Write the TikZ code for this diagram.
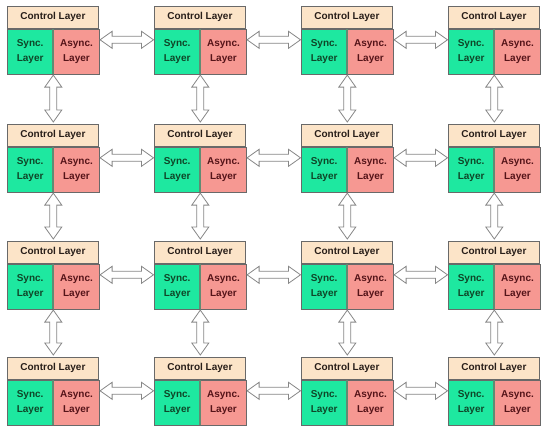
\documentclass[tikz,border=0pt]{standalone}
\usepackage{fontspec}
\setmainfont{Liberation Sans}
\usetikzlibrary{calc}
\definecolor{ctrlfill}{RGB}{252,228,200}
\definecolor{syncfill}{RGB}{30,232,160}
\definecolor{asyncfill}{RGB}{246,152,146}
\definecolor{edgecol}{RGB}{105,105,105}
\definecolor{divcol}{RGB}{95,140,115}
\definecolor{arrowcol}{RGB}{135,135,135}
\definecolor{ctrltext}{RGB}{40,30,25}
\definecolor{synctext}{RGB}{15,70,40}
\definecolor{asynctext}{RGB}{85,20,25}
\begin{document}
\begin{tikzpicture}[x=1pt,y=-1pt,
  ctrlbox/.style={draw=edgecol, line width=0.8pt, fill=ctrlfill, text=ctrltext, minimum width=91pt, minimum height=22pt, inner sep=0pt, anchor=north west, font=\fontsize{10}{12}\selectfont\bfseries},
  layerbox/.style={draw=edgecol, line width=0.8pt, minimum width=45.5pt, minimum height=45pt, inner sep=0pt, anchor=north west, align=center, font=\fontsize{10}{15}\selectfont\bfseries},
  syncbox/.style={layerbox, fill=syncfill, text=synctext},
  asyncbox/.style={layerbox, fill=asyncfill, text=asynctext},
  blockarrow/.style={draw=arrowcol, line width=0.8pt, fill=white, line join=miter},
]
\useasboundingbox (0,0) rectangle (550,437);
\foreach \r/\ty in {1/6,2/124,3/241,4/357}{
  \foreach \c/\tx in {1/7,2/154,3/301,4/448}{
    \node[ctrlbox] (c-\r-\c) at (\tx,\ty) {Control Layer};
    \node[syncbox] (s-\r-\c) at (c-\r-\c.south west) {Sync.\\Layer};
    \node[asyncbox] (a-\r-\c) at (s-\r-\c.north east) {Async.\\Layer};
    \draw[divcol, line width=2.2pt] ([yshift=-0.6pt]s-\r-\c.north east) -- ([yshift=0.6pt]s-\r-\c.south east);
  }
}
% horizontal arrows
\foreach \r in {1,...,4}{
  \foreach \c/\n in {1/2,2/3,3/4}{
    \coordinate (hl) at ([xshift=0.5pt,yshift=-11pt]a-\r-\c.north east);
    \coordinate (hr) at ([xshift=-0.5pt,yshift=-11pt]s-\r-\n.north west);
    \draw[blockarrow] let \p1=(hl), \p2=(hr) in
      (\x1,\y1) -- (\x1+12pt,\y1+8.5pt) -- (\x1+12pt,\y1+3.5pt) -- (\x2-12pt,\y1+3.5pt)
      -- (\x2-12pt,\y1+8.5pt) -- (\x2,\y1) -- (\x2-12pt,\y1-8.5pt) -- (\x2-12pt,\y1-3.5pt)
      -- (\x1+12pt,\y1-3.5pt) -- (\x1+12pt,\y1-8.5pt) -- cycle;
  }
}
% vertical arrows
\foreach \r/\n in {1/2,2/3,3/4}{
  \foreach \c in {1,...,4}{
    \coordinate (vt) at ([yshift=-0.5pt]s-\r-\c.south east);
    \coordinate (vb) at ([yshift=2pt]s-\r-\c.south east |- c-\n-\c.north);
    \draw[blockarrow] let \p1=(vt), \p2=(vb) in
      (\x1,\y1) -- (\x1+8.5pt,\y1-12pt) -- (\x1+3.5pt,\y1-12pt) -- (\x1+3.5pt,\y2+12pt)
      -- (\x1+8.5pt,\y2+12pt) -- (\x1,\y2) -- (\x1-8.5pt,\y2+12pt) -- (\x1-3.5pt,\y2+12pt)
      -- (\x1-3.5pt,\y1-12pt) -- (\x1-8.5pt,\y1-12pt) -- cycle;
  }
}
\end{tikzpicture}
\end{document}
